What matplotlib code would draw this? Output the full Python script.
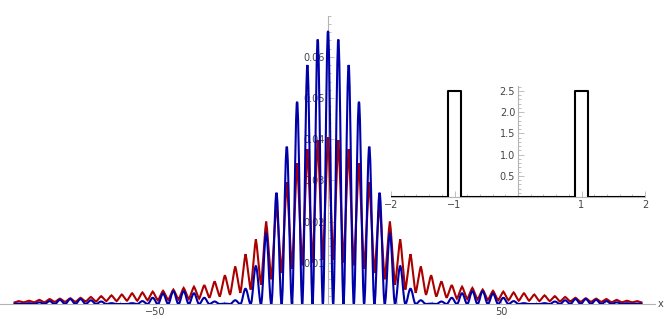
import numpy as np
import matplotlib
matplotlib.use("Agg")
import matplotlib.pyplot as plt
from matplotlib.ticker import MultipleLocator
from matplotlib.path import Path
from matplotlib.patches import PathPatch

# fringe maxima (x) and the minima between them
peak_x = [-89.40, -86.42, -83.44, -80.46, -77.48, -74.50, -71.52, -68.54, -65.56, -62.58,
          -59.60, -56.62, -53.64, -50.66, -47.68, -44.70, -41.72, -38.74, -35.76, -32.78,
          -29.80, -26.82, -23.84, -20.86, -17.88, -14.90, -11.92, -8.94, -5.96, -2.98,
          0.00,
          2.98, 5.96, 8.94, 11.92, 14.90, 17.88, 20.86, 23.84, 26.82, 29.80,
          32.78, 35.76, 38.74, 41.72, 44.70, 47.68, 50.66, 53.64, 56.62, 59.60,
          62.58, 65.56, 68.54, 71.52, 74.50, 77.48, 80.46, 83.44, 86.42, 89.40]
trough_x = [-90.89, -87.91, -84.93, -81.95, -78.97, -75.99, -73.01, -70.03, -67.05, -64.07, -61.09,
            -58.11, -55.13, -52.15, -49.17, -46.19, -43.21, -40.23, -37.25, -34.27, -31.29,
            -28.31, -25.33, -22.35, -19.37, -16.39, -13.41, -10.43, -7.45, -4.47, -1.49,
            1.49, 4.47, 7.45, 10.43, 13.41, 16.39, 19.37, 22.35, 25.33, 28.31,
            31.29, 34.27, 37.25, 40.23, 43.21, 46.19, 49.17, 52.15, 55.13, 58.11,
            61.09, 64.07, 67.05, 70.03, 73.01, 75.99, 78.97, 81.95, 84.93, 87.91, 90.89]

# blue curve: heights of the maxima, minima sit on the axis
blue_peak = [0.0001, 0.0002, 0.0004, 0.0007, 0.0010, 0.0012, 0.0012, 0.0009, 0.0006, 0.0002,
             0.0000, 0.0002, 0.0007, 0.0015, 0.0025, 0.0031, 0.0031, 0.0026, 0.0015, 0.0006,
             0.0001, 0.0009, 0.0037, 0.0092, 0.0172, 0.0270, 0.0382, 0.0491, 0.0580, 0.0642,
             0.0663,
             0.0642, 0.0580, 0.0491, 0.0382, 0.0270, 0.0172, 0.0092, 0.0037, 0.0009, 0.0001,
             0.0006, 0.0015, 0.0026, 0.0031, 0.0031, 0.0025, 0.0015, 0.0007, 0.0002, 0.0000,
             0.0002, 0.0006, 0.0009, 0.0012, 0.0012, 0.0010, 0.0007, 0.0004, 0.0002, 0.0001]
blue_min = 0.0

# red curve: maxima and minima
red_peak = [0.0007, 0.0008, 0.0010, 0.0012, 0.0013, 0.0014, 0.0015, 0.0017, 0.0019, 0.0021,
            0.0023, 0.0026, 0.0028, 0.0030, 0.0032, 0.0035, 0.0039, 0.0042, 0.0046, 0.0055,
            0.0070, 0.0091, 0.0121, 0.0157, 0.0200, 0.0242, 0.0296, 0.0342, 0.0376, 0.0398,
            0.0405,
            0.0398, 0.0376, 0.0342, 0.0296, 0.0242, 0.0200, 0.0157, 0.0121, 0.0091, 0.0070,
            0.0055, 0.0046, 0.0042, 0.0039, 0.0035, 0.0032, 0.0030, 0.0028, 0.0026, 0.0023,
            0.0021, 0.0019, 0.0017, 0.0015, 0.0014, 0.0013, 0.0012, 0.0010, 0.0008, 0.0007]
red_trough = [0.0003, 0.0004, 0.0004, 0.0004, 0.0005, 0.0005, 0.0005, 0.0006, 0.0006, 0.0007, 0.0007,
              0.0008, 0.0008, 0.0009, 0.0009, 0.0010, 0.0011, 0.0012, 0.0013, 0.0015, 0.0018,
              0.0022, 0.0027, 0.0035, 0.0047, 0.0060, 0.0075, 0.0086, 0.0094, 0.0101, 0.0107,
              0.0107, 0.0101, 0.0094, 0.0086, 0.0075, 0.0060, 0.0047, 0.0035, 0.0027, 0.0022,
              0.0018, 0.0015, 0.0013, 0.0012, 0.0011, 0.0010, 0.0009, 0.0009, 0.0008, 0.0008,
              0.0007, 0.0007, 0.0006, 0.0006, 0.0005, 0.0005, 0.0005, 0.0004, 0.0004, 0.0004, 0.0003]

# inset: the two slits
slit_x = [-2, -1.1, -1.1, -0.9, -0.9, 0.9, 0.9, 1.1, 1.1, 2]
slit_y = [0, 0, 2.5, 2.5, 0, 0, 2.5, 2.5, 0, 0]

AXC = "#b4b4b4"
TXC = "#444444"


def zigzag(tx, ty, px, py):
    # alternate minimum / maximum vertices
    n = len(tx) + len(px)
    x = np.empty(n)
    y = np.empty(n)
    x[0::2] = tx
    x[1::2] = px
    y[0::2] = ty
    y[1::2] = py
    return x, y


def rounded_path(x, y, k=0.36):
    # cubic segments with flat tangents at every max/min
    verts = [(x[0], y[0])]
    codes = [Path.MOVETO]
    for i in range(len(x) - 1):
        dx = x[i + 1] - x[i]
        verts += [(x[i] + k * dx, y[i]), (x[i + 1] - k * dx, y[i + 1]), (x[i + 1], y[i + 1])]
        codes += [Path.CURVE4] * 3
    return Path(verts, codes)


def style_axes(ax):
    for s in ["top", "right"]:
        ax.spines[s].set_visible(False)
    for s in ["left", "bottom"]:
        ax.spines[s].set_color(AXC)
        ax.spines[s].set_linewidth(0.8)
    ax.spines["left"].set_position(("data", 0))
    ax.spines["bottom"].set_position(("data", 0))
    ax.tick_params(which="both", direction="in", color=AXC, labelcolor=TXC,
                   labelsize=7, width=0.6, pad=2)
    ax.tick_params(which="major", length=4)
    ax.tick_params(which="minor", length=2)


fig = plt.figure(figsize=(6.64, 3.19), dpi=100)
ax = fig.add_axes([0.0, 15 / 319, 655 / 664, 0.904])
ax.set_facecolor("none")

rx, ry = zigzag(trough_x, red_trough, peak_x, red_peak)
bx, by = zigzag(trough_x, [blue_min] * len(trough_x), peak_x, blue_peak)
ax.add_patch(PathPatch(rounded_path(rx, ry, 0.12), fill=False, edgecolor="#aa0000",
                       lw=1.5, zorder=3))
ax.add_patch(PathPatch(rounded_path(bx, by), fill=False, edgecolor="#0000aa",
                       lw=1.5, zorder=4))

ax.set_xlim(-94.8, 94.5)
ax.set_ylim(0, 0.07)
style_axes(ax)
ax.set_xticks([-50, 50])
ax.set_xticklabels(["\u221250", "50"])
ax.xaxis.set_minor_locator(MultipleLocator(10))
ax.set_yticks([0.01, 0.02, 0.03, 0.04, 0.05, 0.06])
ax.set_yticklabels(["0.01", "0.02", "0.03", "0.04", "0.05", "0.06"])
ax.yaxis.set_minor_locator(MultipleLocator(0.002))
fig.text(661 / 664, 15 / 319, "x", fontsize=7, color=TXC, ha="center", va="center")

# inset
ins = fig.add_axes([391 / 664, 122 / 319, 254 / 664, 111.1 / 319])
ins.set_facecolor("none")
ins.plot(slit_x, slit_y, color="black", lw=1.5, zorder=3)
ins.set_xlim(-2, 2)
ins.set_ylim(0, 2.62)
style_axes(ins)
ins.set_xticks([-2, -1, 1, 2])
ins.set_xticklabels(["\u22122", "\u22121", "1", "2"])
ins.xaxis.set_minor_locator(MultipleLocator(0.2))
ins.set_yticks([0.5, 1.0, 1.5, 2.0, 2.5])
ins.set_yticklabels(["0.5", "1.0", "1.5", "2.0", "2.5"])
ins.yaxis.set_minor_locator(MultipleLocator(0.1))

fig.savefig("out.png", dpi=100)
